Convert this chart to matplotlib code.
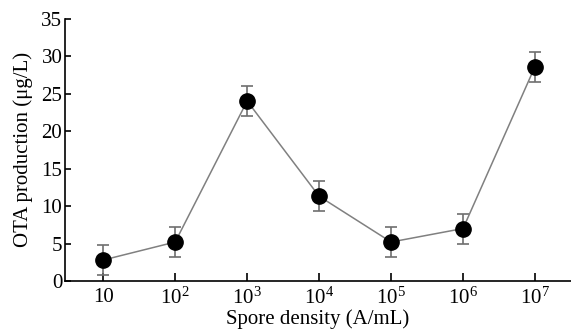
import matplotlib
matplotlib.use('Agg')
import matplotlib.pyplot as plt
import numpy as np

plt.rcParams['font.family'] = ['Liberation Serif', 'DejaVu Serif']
plt.rcParams['mathtext.fontset'] = 'custom'
plt.rcParams['mathtext.rm'] = 'Liberation Serif'
plt.rcParams['mathtext.it'] = 'Liberation Serif:italic'

# data
densities = ['10', '$\\mathregular{10^{2}}$', '$\\mathregular{10^{3}}$', '$\\mathregular{10^{4}}$',
             '$\\mathregular{10^{5}}$', '$\\mathregular{10^{6}}$', '$\\mathregular{10^{7}}$']
ota = [2.8, 5.2, 24.0, 11.3, 5.2, 7.0, 28.6]
ota_err = [2.0, 2.0, 2.0, 2.0, 2.0, 2.0, 2.0]
y_ticks = [0, 5, 10, 15, 20, 25, 30, 35]

fig = plt.figure(figsize=(5.71, 3.31), dpi=100)
ax = fig.add_axes([0.114, 0.151, 0.886, 0.793])

x = np.arange(len(ota))
ax.errorbar(x, ota, yerr=ota_err, fmt='none', ecolor='#6e6e6e', elinewidth=1.2,
            capsize=4.5, capthick=1.2, zorder=2)
ax.plot(x, ota, color='#808080', linewidth=1.1, zorder=3)
ax.plot(x, ota, 'o', color='black', markersize=11, zorder=4)

ax.set_xlim(-0.53, 6.5)
ax.set_ylim(0, 35)
ax.set_xticks(x)
ax.set_xticklabels(densities)
ax.set_yticks(y_ticks)

# only left and bottom frame, ticks pointing inward
ax.spines['top'].set_visible(False)
ax.spines['right'].set_visible(False)
ax.spines['left'].set_linewidth(1.2)
ax.spines['bottom'].set_linewidth(1.2)
ax.tick_params(axis='both', direction='in', labelsize=15, width=1.2, colors='black')
ax.tick_params(axis='y', length=4, pad=2)
ax.tick_params(axis='x', length=6, pad=5)

ax.set_xlabel('Spore density (A/mL)', fontsize=15, labelpad=0)
ax.set_ylabel('OTA production (μg/L)', fontsize=15, labelpad=6)

plt.savefig('out.png', dpi=100)
